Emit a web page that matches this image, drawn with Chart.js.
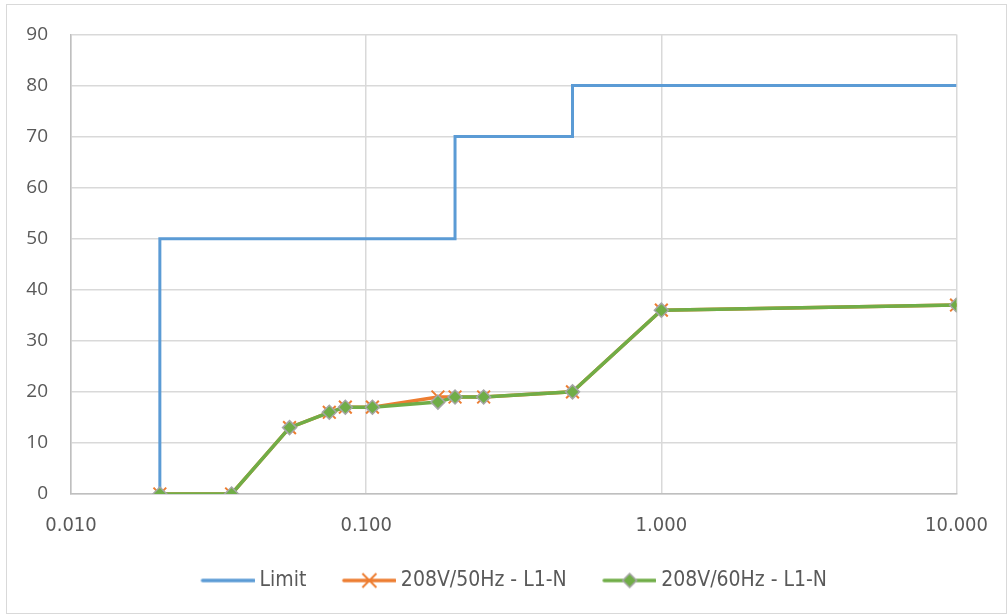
<!DOCTYPE html>
<html>
<head>
<meta charset="utf-8">
<script src="https://cdn.jsdelivr.net/npm/chart.js@4.4.1/dist/chart.umd.min.js"></script>
<style>
  html, body { margin: 0; padding: 0; background: #fff; }
  #wrap { width: 1008px; height: 615px; position: relative; }
</style>
</head>
<body>
<div id="wrap"><canvas id="chart" width="1008" height="615"></canvas></div>
<script>
// limit step line
const limitX = [0.02, 0.02, 0.2, 0.2, 0.5, 0.5, 10];
const limitY = [0, 50, 50, 70, 70, 80, 80];

// measured points
const timeX = [0.02, 0.035, 0.055, 0.075, 0.085, 0.105, 0.175, 0.2, 0.25, 0.5, 1, 10];
const v50Hz = [0, 0, 13, 16, 17, 17, 19, 19, 19, 20, 36, 37];
const v60Hz = [0, 0, 13, 16, 17, 17, 18, 19, 19, 20, 36, 37];

const xTicks = [0.01, 0.1, 1, 10];
const seriesNames = ['Limit', '208V/50Hz - L1-N', '208V/60Hz - L1-N'];

const BLUE = '#5b9bd5', ORANGE = '#ed7d31', GREEN = '#70ad47', GREY = '#a5a5a5';
const NARROW = '"Liberation Sans Narrow", "DejaVu Sans Condensed", "Liberation Sans", sans-serif';

const pts = (xs, ys) => xs.map((x, i) => ({ x, y: ys[i] }));

// legend icon: short line with marker in the middle (left part transparent for spacing)
function legendIcon(color, marker) {
  const c = document.createElement('canvas');
  c.width = 77; c.height = 18;
  const g = c.getContext('2d');
  const x0 = 25, x1 = 76, cx = (x0 + x1) / 2, cy = 9;
  g.strokeStyle = color; g.lineWidth = 3.5; g.lineCap = 'round';
  g.beginPath(); g.moveTo(x0, cy); g.lineTo(x1, cy); g.stroke();
  if (marker === 'x') {
    g.lineWidth = 2; g.lineCap = 'butt';
    g.beginPath();
    g.moveTo(cx - 7, cy - 7); g.lineTo(cx + 7, cy + 7);
    g.moveTo(cx + 7, cy - 7); g.lineTo(cx - 7, cy + 7);
    g.stroke();
  } else if (marker === 'd') {
    g.fillStyle = color; g.strokeStyle = GREY; g.lineWidth = 1.5;
    g.beginPath();
    g.moveTo(cx, cy - 7); g.lineTo(cx + 7, cy); g.lineTo(cx, cy + 7); g.lineTo(cx - 7, cy); g.closePath();
    g.fill(); g.stroke();
  }
  return c;
}
const icons = [legendIcon(BLUE), legendIcon(ORANGE, 'x'), legendIcon(GREEN, 'd')];

const framePlugin = {
  id: 'frame',
  afterLayout(chart) {
    // nudge legend to the right so it sits like the original
    chart.legend.left += 26;
    chart.legend.right += 26;
  },
  beforeDraw(chart) {
    const ctx = chart.ctx;
    ctx.save();
    ctx.strokeStyle = '#d9d9d9';
    ctx.lineWidth = 1;
    ctx.strokeRect(6.5, 4.5, 1000, 609);
    ctx.restore();
  }
};

new Chart(document.getElementById('chart'), {
  type: 'line',
  data: {
    datasets: [
      {
        label: seriesNames[0],
        data: pts(limitX, limitY),
        borderColor: BLUE, backgroundColor: BLUE,
        borderWidth: 3, pointRadius: 0, tension: 0, order: 2
      },
      {
        label: seriesNames[1],
        data: pts(timeX, v50Hz),
        borderColor: ORANGE, backgroundColor: ORANGE,
        borderWidth: 3.5, tension: 0, order: 1,
        pointStyle: 'crossRot', pointRadius: 9, pointBorderWidth: 2,
        pointBorderColor: ORANGE
      },
      {
        label: seriesNames[2],
        data: pts(timeX, v60Hz),
        borderColor: GREEN, backgroundColor: GREEN,
        borderWidth: 3.5, tension: 0, order: 0,
        pointStyle: 'rectRot', pointRadius: 7, pointBorderWidth: 1.5,
        pointBackgroundColor: GREEN, pointBorderColor: GREY
      }
    ]
  },
  options: {
    responsive: false,
    animation: false,
    layout: { padding: { top: 34, right: 50, left: 0, bottom: 14 } },
    plugins: {
      tooltip: { enabled: false },
      legend: {
        position: 'bottom',
        labels: {
          usePointStyle: true,
          pointStyleWidth: 66,
          padding: 18,
          color: '#595959',
          font: { family: NARROW, size: 21 },
          generateLabels: chart => chart.data.datasets.map((ds, i) => ({
            text: ds.label,
            pointStyle: icons[i],
            fontColor: '#595959',
            datasetIndex: i,
            lineWidth: 0
          }))
        }
      }
    },
    scales: {
      x: {
        type: 'logarithmic',
        min: 0.01, max: 10,
        afterBuildTicks: s => { s.ticks = xTicks.map(v => ({ value: v, major: true })); },
        afterFit: s => { s.height = 58; },
        grid: { color: '#d9d9d9', lineWidth: 1.5, drawTicks: false },
        border: { color: '#bfbfbf', width: 1.5 },
        ticks: {
          padding: 20,
          color: '#595959',
          font: { family: NARROW, size: 20 },
          callback: v => Number(v).toFixed(3),
          maxRotation: 0, autoSkip: false
        }
      },
      y: {
        min: 0, max: 90,
        afterFit: s => { s.width = 71; },
        grid: { color: '#d9d9d9', lineWidth: 1.5, drawTicks: false },
        border: { color: '#bfbfbf', width: 1.5 },
        ticks: {
          stepSize: 10,
          padding: 23,
          color: '#595959',
          font: { family: '"Open Sans", "Liberation Sans", sans-serif', size: 19 }
        }
      }
    }
  },
  plugins: [framePlugin]
});
</script>
</body>
</html>
